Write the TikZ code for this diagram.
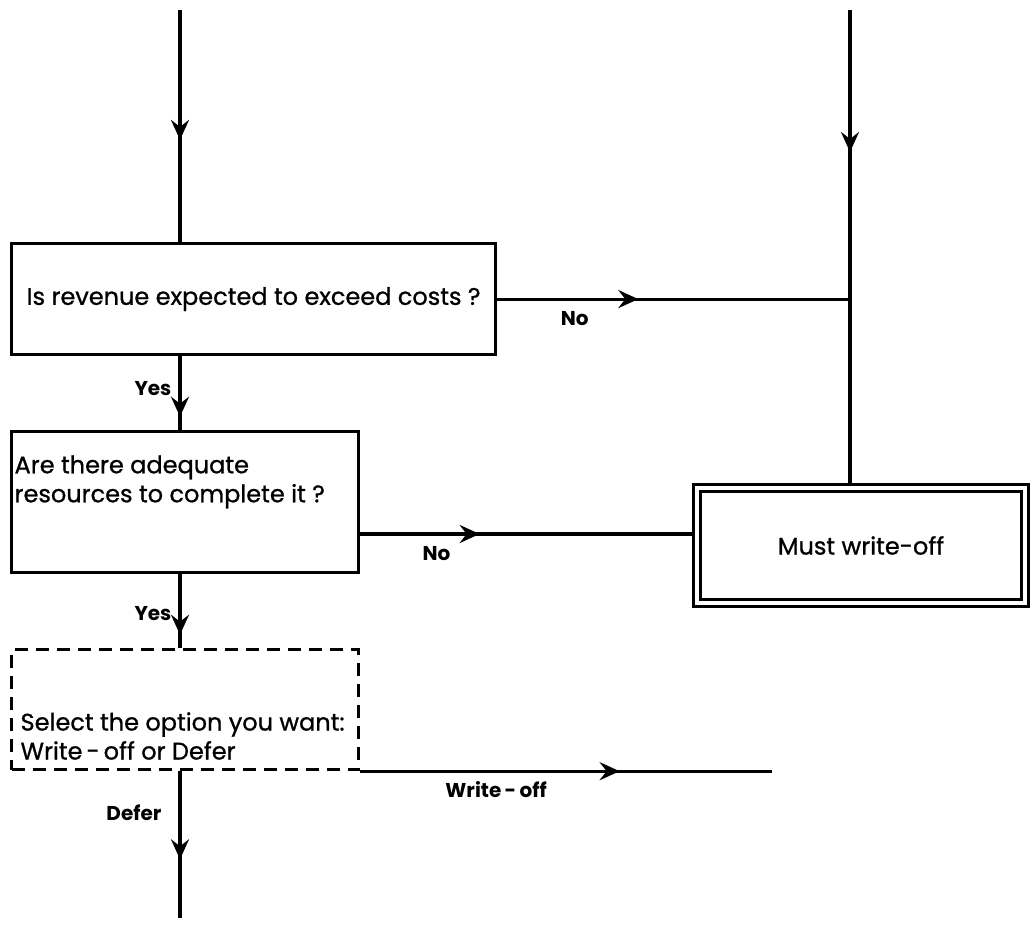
\documentclass[tikz,border=0pt]{standalone}
\usepackage{fontspec}
\setmainfont{Poppins}
\newfontface\boxfont{Poppins}[RawFeature={embolden=0.9}]
\usetikzlibrary{arrows.meta,decorations.markings,positioning}

\begin{document}
\begin{tikzpicture}[x=1pt, y=-1pt, line width=3.2pt,
    % Estilos
    box/.style={
        draw, line width=3.2pt, anchor=north west, inner sep=0pt,
        font=\fontsize{24}{29}\boxfont
    },
    optbox/.style={box, dash pattern=on 13pt off 8pt},
    finalbox/.style={
        draw, double, double distance=3.6pt, line width=2.8pt,
        outer sep=4.6pt, font=\fontsize{24}{29}\boxfont
    },
    boxtext/.style={font=\fontsize{24}{29}\boxfont, align=left, inner sep=0pt},
    answer/.style={font=\fontsize{20}{22}\selectfont\bfseries, inner sep=1pt},
    midarrow/.style={
        decoration={markings, mark=at position #1 with
            {\arrow{Stealth[length=20pt, width=18pt, inset=7pt]}}},
        postaction={decorate}
    }
]
\useasboundingbox (0,0) rectangle (1030,928);

% =============================================
% CAJAS
% =============================================

% Pregunta 1
\node[box, minimum width=484pt, minimum height=111pt] (revenue) at (10,242)
    {Is revenue expected to exceed costs ?};

% Pregunta 2
\node[box, minimum width=347pt, minimum height=141pt] (resources) at (10,430) {};
\node[boxtext, anchor=west] (resourcesTxt) at (13,482)
    {Are there adequate\\resources to complete it ?};

% Opcion (discontinua)
\node[optbox, minimum width=347pt, minimum height=120pt] (select) at (10,648) {};
\node[boxtext, anchor=west] (selectTxt) at (19,736)
    {Select the option you want:\\Write\,-\,off or Defer};

% Resultado final (doble)
\node[finalbox, minimum width=328pt, minimum height=115pt] (mustwo) at (861,545.5)
    {Must write-off};

% =============================================
% CONEXIONES
% =============================================
\coordinate (topL) at (180,10);
\coordinate (topR) at (850,10);
\coordinate (noR) at (692,534);
\coordinate (writeX) at (772,0);
\coordinate (writeEnd) at (select.south east -| writeX);
\coordinate (deferEnd) at (180,918);

% Entradas superiores
\draw[midarrow=0.56] (topL) -- (topL |- revenue.north);
\draw[midarrow=0.3] (topR) -- (topR |- mustwo.north);

% Pregunta 1 -> No
\draw[midarrow=0.4] (revenue.east) -- (revenue.east -| topR)
    node[answer, pos=0.22, below=10pt] {No};

% Pregunta 1 -> Yes
\draw[midarrow=0.82] (topL |- revenue.south) -- (topL |- resources.north)
    node[answer, pos=0.44, left=6pt] {Yes};

% Pregunta 2 -> No
\draw[midarrow=0.36] (resources.east |- noR) -- (noR)
    node[answer, pos=0.23, below=10pt] {No};

% Pregunta 2 -> Yes
\draw[midarrow=0.82] (topL |- resources.south) -- (topL |- select.north)
    node[answer, pos=0.53, left=6pt] {Yes};

% Opcion -> Write-off / Defer
\draw[midarrow=0.63] (select.south east) -- (writeEnd)
    node[answer, pos=0.33, below=8pt] {Write\,-\,off};
\draw[midarrow=0.6] (topL |- select.south) -- (deferEnd)
    node[answer, pos=0.28, left=16pt] {Defer};

\end{tikzpicture}
\end{document}
